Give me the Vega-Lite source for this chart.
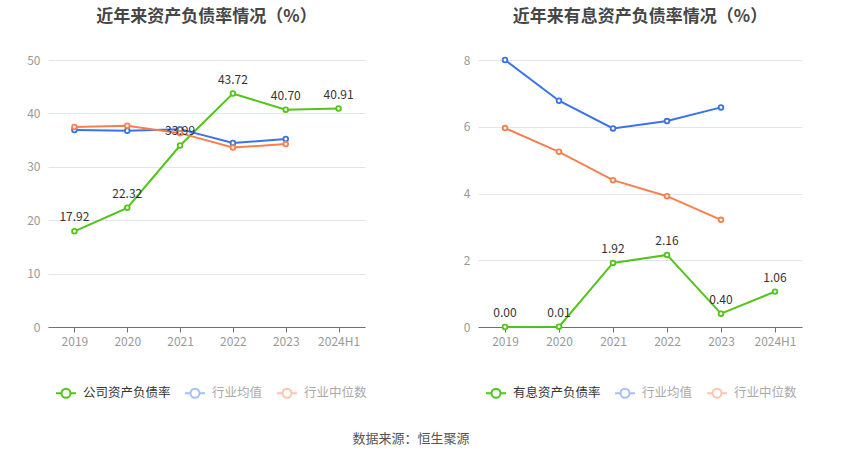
{
  "$schema": "https://vega.github.io/schema/vega-lite/v6.json",
  "background": "white",
  "padding": {"left": 18, "top": 8, "right": 10, "bottom": 10},
  "spacing": 74,
  "title": {"text": "数据来源：恒生聚源", "orient": "bottom", "anchor": "middle", "fontSize": 13, "fontWeight": "normal", "color": "#555", "offset": 24, "font": "Noto Sans CJK SC"},
  "config": {
    "font": "Noto Sans CJK SC",
    "view": {"stroke": null},
    "axisX": {"labelAngle": 0, "domainColor": "#6e7079", "tickColor": "#6e7079", "tickSize": 5, "labelColor": "#999", "labelFontSize": 12, "labelPadding": 4, "title": null, "grid": false},
    "axisY": {"domain": false, "ticks": false, "labelColor": "#999", "labelFontSize": 12, "labelPadding": 8, "gridColor": "#e0e6f1", "title": null, "minExtent": 30, "maxExtent": 30},
    "title": {"fontSize": 17, "fontWeight": "bold", "color": "#464646", "anchor": "middle", "offset": 28},
    "legend": {"orient": "bottom", "direction": "horizontal", "title": null, "labelFontSize": 12.5, "symbolSize": 400, "symbolStrokeWidth": 2, "columnPadding": 10, "labelOffset": 6, "offset": 28, "padding": 7, "symbolType": "M-1,0L-0.45,0M0.45,0L1,0M0.45,0A0.45,0.45,0,1,1,-0.45,0A0.45,0.45,0,1,1,0.45,0"}
  },
  "resolve": {"scale": {"color": "independent"}, "legend": {"color": "independent"}},
  "hconcat": [
    {
      "title": "近年来资产负债率情况（%）",
      "width": 317,
      "height": 267,
      "data": {"values": [
        {"year": "2019", "series": "公司资产负债率", "value": 17.92},
        {"year": "2020", "series": "公司资产负债率", "value": 22.32},
        {"year": "2021", "series": "公司资产负债率", "value": 33.99},
        {"year": "2022", "series": "公司资产负债率", "value": 43.72},
        {"year": "2023", "series": "公司资产负债率", "value": 40.70},
        {"year": "2024H1", "series": "公司资产负债率", "value": 40.91},
        {"year": "2019", "series": "行业均值", "value": 36.9},
        {"year": "2020", "series": "行业均值", "value": 36.75},
        {"year": "2021", "series": "行业均值", "value": 37.05},
        {"year": "2022", "series": "行业均值", "value": 34.45},
        {"year": "2023", "series": "行业均值", "value": 35.2},
        {"year": "2019", "series": "行业中位数", "value": 37.45},
        {"year": "2020", "series": "行业中位数", "value": 37.7},
        {"year": "2021", "series": "行业中位数", "value": 36.3},
        {"year": "2022", "series": "行业中位数", "value": 33.6},
        {"year": "2023", "series": "行业中位数", "value": 34.25}
      ]},
      "encoding": {
        "x": {"field": "year", "type": "nominal", "sort": null, "axis": {}},
        "y": {"field": "value", "type": "quantitative", "scale": {"domain": [0, 50]}, "axis": {"values": [0, 10, 20, 30, 40, 50]}}
      },
      "layer": [
        {
          "mark": {"type": "line", "strokeWidth": 2},
          "encoding": {
            "color": {"field": "series", "type": "nominal", "sort": null,
              "scale": {"domain": ["公司资产负债率", "行业均值", "行业中位数"], "range": ["#52c41a", "#3a72e8", "#f77f4f"]},
              "legend": {"encode": {
                "symbols": {"update": {"fill": {"value": "white"}, "strokeWidth": {"value": 2}, "strokeOpacity": {"signal": "datum.value === '公司资产负债率' ? 1 : 0.45"}, "stroke": {"signal": "datum.value === '公司资产负债率' ? '#52c41a' : datum.value === '行业均值' ? '#a6c0f5' : '#fbbda5'"}}},
                "labels": {"update": {"fill": {"signal": "datum.value === '公司资产负债率' ? '#333333' : '#aaaaaa'"}}}
              }}
            }
          }
        },
        {
          "mark": {"type": "point", "shape": "circle", "filled": true, "fill": "white", "size": 22, "strokeWidth": 1.8, "opacity": 1},
          "encoding": {"stroke": {"field": "series", "type": "nominal", "scale": {"domain": ["公司资产负债率", "行业均值", "行业中位数"], "range": ["#52c41a", "#3a72e8", "#f77f4f"]}, "legend": null}}
        },
        {
          "transform": [{"filter": "datum.series === '公司资产负债率'"}],
          "mark": {"type": "text", "dy": -14, "fontSize": 12, "color": "#333"},
          "encoding": {"text": {"field": "value", "type": "quantitative", "format": ".2f"}}
        }
      ]
    },
    {
      "title": "近年来有息资产负债率情况（%）",
      "width": 324,
      "height": 267,
      "data": {"values": [
        {"year": "2019", "series": "有息资产负债率", "value": 0.00},
        {"year": "2020", "series": "有息资产负债率", "value": 0.01},
        {"year": "2021", "series": "有息资产负债率", "value": 1.92},
        {"year": "2022", "series": "有息资产负债率", "value": 2.16},
        {"year": "2023", "series": "有息资产负债率", "value": 0.40},
        {"year": "2024H1", "series": "有息资产负债率", "value": 1.06},
        {"year": "2019", "series": "行业均值", "value": 8.0},
        {"year": "2020", "series": "行业均值", "value": 6.78},
        {"year": "2021", "series": "行业均值", "value": 5.95},
        {"year": "2022", "series": "行业均值", "value": 6.17},
        {"year": "2023", "series": "行业均值", "value": 6.58},
        {"year": "2019", "series": "行业中位数", "value": 5.96},
        {"year": "2020", "series": "行业中位数", "value": 5.25},
        {"year": "2021", "series": "行业中位数", "value": 4.4},
        {"year": "2022", "series": "行业中位数", "value": 3.92},
        {"year": "2023", "series": "行业中位数", "value": 3.21}
      ]},
      "encoding": {
        "x": {"field": "year", "type": "nominal", "sort": null, "axis": {}},
        "y": {"field": "value", "type": "quantitative", "scale": {"domain": [0, 8]}, "axis": {"values": [0, 2, 4, 6, 8]}}
      },
      "layer": [
        {
          "mark": {"type": "line", "strokeWidth": 2},
          "encoding": {
            "color": {"field": "series", "type": "nominal", "sort": null,
              "scale": {"domain": ["有息资产负债率", "行业均值", "行业中位数"], "range": ["#52c41a", "#3a72e8", "#f77f4f"]},
              "legend": {"encode": {
                "symbols": {"update": {"fill": {"value": "white"}, "strokeWidth": {"value": 2}, "strokeOpacity": {"signal": "datum.value === '有息资产负债率' ? 1 : 0.45"}, "stroke": {"signal": "datum.value === '有息资产负债率' ? '#52c41a' : datum.value === '行业均值' ? '#a6c0f5' : '#fbbda5'"}}},
                "labels": {"update": {"fill": {"signal": "datum.value === '有息资产负债率' ? '#333333' : '#aaaaaa'"}}}
              }}
            }
          }
        },
        {
          "mark": {"type": "point", "shape": "circle", "filled": true, "fill": "white", "size": 22, "strokeWidth": 1.8, "opacity": 1},
          "encoding": {"stroke": {"field": "series", "type": "nominal", "scale": {"domain": ["有息资产负债率", "行业均值", "行业中位数"], "range": ["#52c41a", "#3a72e8", "#f77f4f"]}, "legend": null}}
        },
        {
          "transform": [{"filter": "datum.series === '有息资产负债率'"}],
          "mark": {"type": "text", "dy": -14, "fontSize": 12, "color": "#333"},
          "encoding": {"text": {"field": "value", "type": "quantitative", "format": ".2f"}}
        }
      ]
    }
  ]
}
